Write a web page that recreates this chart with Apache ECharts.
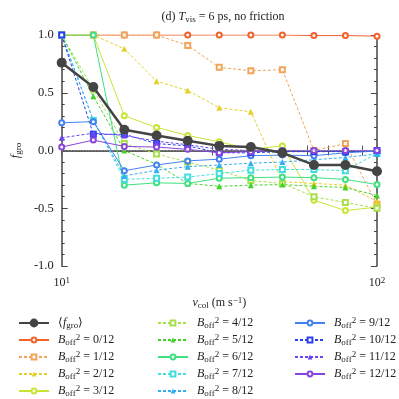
<!DOCTYPE html>
<html>
<head>
<meta charset="utf-8">
<script src="https://cdn.jsdelivr.net/npm/echarts@6/dist/echarts.min.js"></script>
<style>
  html, body { margin: 0; padding: 0; background: #fff; }
  #chart { width: 399px; height: 399px; }
</style>
</head>
<body>
<div id="chart"></div>
<script>
  // collision velocity (m/s)
  var vcol = [10, 12.6, 15.8, 20.0, 25.1, 31.6, 39.8, 50.1, 63.1, 79.4, 100];

  // <f_gro> averaged over all B_off^2
  var fMean = [0.76, 0.55, 0.18, 0.13, 0.085, 0.04, 0.03, -0.02, -0.125, -0.125, -0.18];

  // f_gro for each B_off^2 = n/12
  var b00 = [1, 1, 1, 1, 1, 1, 1, 1, 0.995, 0.995, 0.99];
  var b01 = [1, 1, 1, 1, 0.91, 0.72, 0.69, 0.70, 0.0, 0.06, -0.465];
  var b02 = [1, 1, 0.88, 0.60, 0.52, 0.37, 0.335, -0.27, -0.285, -0.30, -0.44];
  var b03 = [1, 1, 0.30, 0.20, 0.13, 0.075, 0.01, 0.04, -0.43, -0.52, -0.49];
  var b04 = [1, 0.53, 0.06, -0.03, -0.10, -0.17, -0.26, -0.285, -0.40, -0.45, -0.50];
  var b05 = [1, 0.47, 0.0, -0.12, -0.285, -0.31, -0.30, -0.295, -0.31, -0.32, -0.39];
  var b06 = [1, 1, -0.30, -0.28, -0.285, -0.24, -0.235, -0.23, -0.235, -0.25, -0.295];
  var b07 = [1, 0.26, -0.25, -0.24, -0.23, -0.20, -0.17, -0.165, -0.165, -0.175, -0.025];
  var b08 = [1, 0.26, -0.22, -0.17, -0.14, -0.125, -0.11, -0.10, -0.08, -0.06, -0.03];
  var b09 = [0.24, 0.25, -0.175, -0.125, -0.09, -0.075, -0.045, -0.04, -0.045, -0.02, -0.005];
  var b10 = [1, 0.14, 0.14, 0.06, 0.04, -0.02, -0.02, -0.01, -0.01, -0.01, 0.0];
  var b11 = [0.11, 0.15, 0.13, 0.08, 0.05, 0.01, 0.0, 0.0, 0.0, 0.0, 0.0];
  var b12 = [0.03, 0.09, 0.035, 0.03, 0.01, -0.02, -0.01, 0.0, 0.0, 0.0, 0.0];

  var bNames = ['0/12', '1/12', '2/12', '3/12', '4/12', '5/12', '6/12',
                '7/12', '8/12', '9/12', '10/12', '11/12', '12/12'];
  var bValues = [b00, b01, b02, b03, b04, b05, b06, b07, b08, b09, b10, b11, b12];

  var xTicks = [10, 20, 30, 40, 50, 60, 70, 80, 90, 100];
  var xLabels = [10, 100];

  var bColors = ['#f2622a', '#f2a45a', '#e6cf2a', '#c6e636', '#a6e04a', '#46d22c', '#3fe07f',
                 '#42dede', '#35aef0', '#4382ee', '#2a3ff0', '#6a44ee', '#8a44de'];
  var bSymbols = ['emptyCircle', 'emptyRect', 'triangle', 'emptyCircle', 'emptyRect', 'triangle', 'emptyCircle',
                  'emptyRect', 'triangle', 'emptyCircle', 'emptyRect', 'triangle', 'emptyCircle'];
  var bDashed = [false, true, true, false, true, true, false, true, true, false, true, true, false];

  var FONT = 'Liberation Serif';

  function pairs(ys) {
    return ys.map(function (y, i) { return [vcol[i], y]; });
  }

  var series = [];
  bNames.forEach(function (n, i) {
    series.push({
      name: n,
      type: 'line',
      data: pairs(bValues[i]),
      symbol: bSymbols[i],
      symbolSize: bSymbols[i] === 'triangle' ? 6 : 5,
      showAllSymbol: true,
      color: bColors[i],
      lineStyle: { width: 1, color: bColors[i], type: bDashed[i] ? [3, 2] : 'solid' },
      itemStyle: { color: bColors[i], borderWidth: 1 },
      emphasis: { disabled: true },
      animation: false
    });
  });
  series.push({
    name: 'mean',
    type: 'line',
    data: pairs(fMean),
    symbol: 'circle',
    symbolSize: 10,
    color: '#444',
    lineStyle: { width: 2.5, color: '#444' },
    itemStyle: { color: '#444' },
    z: 5,
    emphasis: { disabled: true },
    animation: false,
    markLine: {
      silent: true,
      symbol: 'none',
      label: { show: false },
      lineStyle: { color: '#aaa', type: [1, 2], width: 1 },
      data: [{ yAxis: 0 }]
    }
  });

  var rich = {
    n: { fontFamily: FONT, fontSize: 12, fontWeight: 'normal', color: '#222', lineHeight: 14 },
    i: { fontFamily: FONT, fontSize: 12, fontWeight: 'normal', color: '#222', fontStyle: 'italic', lineHeight: 14 },
    sub: { fontFamily: FONT, fontSize: 9, fontWeight: 'normal', color: '#222', lineHeight: 8,
           verticalAlign: 'bottom', padding: [6, 0, 0, 0] },
    sup: { fontFamily: FONT, fontSize: 9, fontWeight: 'normal', color: '#222', lineHeight: 8,
           verticalAlign: 'top', padding: [0, 0, 5, 0] }
  };

  function legendText(name) {
    if (name === 'mean') return '{n|\u27e8}{i|f}{sub|gro}{n|\u27e9}';
    return '{i|B}{sub|off}{sup|2}{n| = ' + name + '}';
  }

  function makeLegend(names, left, top, h) {
    return {
      data: names,
      orient: 'vertical',
      left: left,
      top: top,
      height: 90,
      itemWidth: 30,
      itemHeight: h,
      itemGap: 2,
      padding: 0,
      selectedMode: false,
      formatter: legendText,
      textStyle: { rich: rich, padding: [0, 0, 0, 4] }
    };
  }

  var option = {
    backgroundColor: '#fff',
    animation: false,
    title: {
      text: '{n|(d) }{i|T}{sub|vis}{n| = 6 ps, no friction}',
      left: 218,
      top: 5,
      textAlign: 'center',
      textStyle: { rich: rich }
    },
    grid: { left: 58, right: 22, top: 35, bottom: 133 },
    legend: [
      makeLegend(['mean'], 18, 315, 11),
      makeLegend(['0/12', '1/12', '2/12', '3/12'], 18, 332, 6),
      makeLegend(['4/12', '5/12', '6/12', '7/12', '8/12'], 157, 315, 6),
      makeLegend(['9/12', '10/12', '11/12', '12/12'], 294, 315, 6)
    ],
    xAxis: [{
      type: 'log',
      logBase: 10,
      min: 10,
      max: 100,
      name: '{i|v}{sub|col}{n| (m s}{sup|\u22121}{n|)}',
      nameLocation: 'middle',
      nameGap: 26,
      nameTextStyle: { rich: rich },
      axisLine: { lineStyle: { color: '#555', width: 1.5 } },
      axisTick: { inside: true, length: 5, customValues: xTicks, lineStyle: { color: '#555' } },
      axisLabel: {
        customValues: xLabels,
        margin: 10,
        formatter: function (v) {
          return '{n|10}{sup|' + Math.round(Math.log10(v)) + '}';
        },
        rich: rich
      },
      splitLine: { show: false }
    }, {
      type: 'log',
      logBase: 10,
      min: 10,
      max: 100,
      position: 'top',
      axisLine: { lineStyle: { color: '#555', width: 1.5 } },
      axisTick: { inside: true, length: 5, customValues: xTicks, lineStyle: { color: '#555' } },
      axisLabel: { show: false },
      splitLine: { show: false }
    }],
    yAxis: [{
      type: 'value',
      min: -1,
      max: 1,
      interval: 0.5,
      name: '{i|f}{sub|gro}',
      nameLocation: 'middle',
      nameGap: 36,
      nameRotate: 90,
      nameTextStyle: { rich: rich },
      axisLine: { show: true, lineStyle: { color: '#444', width: 1.5 } },
      axisTick: { inside: true, length: 6, lineStyle: { color: '#444' } },
      minorTick: { show: true, splitNumber: 5, length: 3, lineStyle: { color: '#444' } },
      axisLabel: {
        margin: 8,
        fontFamily: FONT,
        fontSize: 12.5,
        color: '#222',
        formatter: function (v) { return v.toFixed(1); }
      },
      splitLine: { show: false }
    }, {
      type: 'value',
      min: -1,
      max: 1,
      interval: 0.5,
      position: 'right',
      axisLine: { show: true, lineStyle: { color: '#444', width: 1.5 } },
      axisTick: { inside: true, length: 6, lineStyle: { color: '#444' } },
      minorTick: { show: true, splitNumber: 5, length: 3, lineStyle: { color: '#444' } },
      axisLabel: { show: false },
      splitLine: { show: false }
    }],
    series: series
  };

  var myChart = echarts.init(document.getElementById('chart'));
  myChart.setOption(option);
</script>
</body>
</html>
